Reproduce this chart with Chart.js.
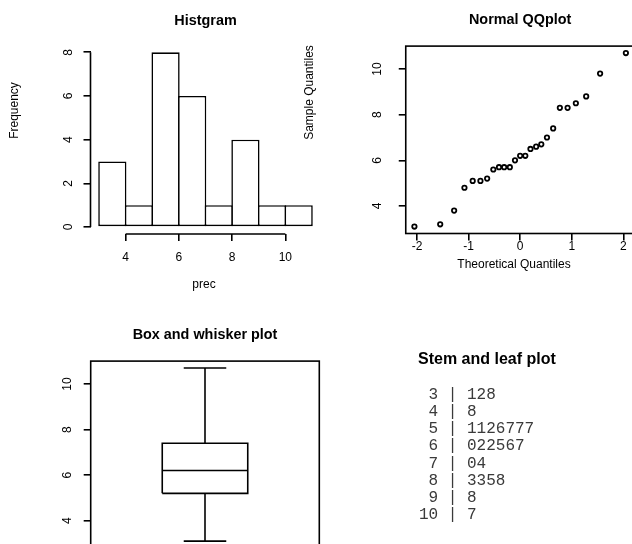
<!DOCTYPE html>
<html>
<head>
<meta charset="utf-8">
<script src="https://cdn.jsdelivr.net/npm/chart.js@4.4.1/dist/chart.umd.min.js"></script>
<style>
  html, body { margin: 0; padding: 0; background: #fff; width: 632px; height: 544px; overflow: hidden; }
  canvas { position: absolute; left: 0; top: 0; }
  #stemTitle { position: absolute; left: 418px; top: 350px; line-height: 20px;
    font: bold 16px "Liberation Sans", Arial, sans-serif; color: #000; white-space: nowrap; }
  #stemText { position: absolute; left: 419px; top: 387px; margin: 0;
    font: 16px/17.14px "Liberation Mono", "Courier New", monospace; color: #3a3a3a; }
</style>
</head>
<body>
<canvas id="hist" width="700" height="620"></canvas>
<canvas id="qq" width="700" height="620"></canvas>
<canvas id="box" width="700" height="620"></canvas>
<div id="stemTitle">Stem and leaf plot</div>
<pre id="stemText"></pre>
<script>
// precipitation sample
var histBreaks = [3, 4, 5, 6, 7, 8, 9, 10, 11];
var histCounts = [3, 1, 8, 6, 1, 4, 1, 1];
var histXTicks = [4, 6, 8, 10];
var histYTicks = [0, 2, 4, 6, 8];

var qqTheo = [-2.05, -1.55, -1.28, -1.08, -0.92, -0.77, -0.64, -0.52, -0.41, -0.31, -0.2, -0.1, 0,
              0.1, 0.2, 0.31, 0.41, 0.52, 0.64, 0.77, 0.92, 1.08, 1.28, 1.55, 2.05];
var qqSample = [3.1, 3.2, 3.8, 4.8, 5.1, 5.1, 5.2, 5.6, 5.7, 5.7, 5.7, 6.0, 6.2,
                6.2, 6.5, 6.6, 6.7, 7.0, 7.4, 8.3, 8.3, 8.5, 8.8, 9.8, 10.7];
var qqXTicks = [-2, -1, 0, 1, 2];
var qqYTicks = [4, 6, 8, 10];

// min, lower hinge, median, upper hinge, max
var boxStats = [3.1, 5.2, 6.2, 7.4, 10.7];
var boxYTicks = [4, 6, 8, 10];

var stems = [3, 4, 5, 6, 7, 8, 9, 10];
var leaves = ['128', '8', '1126777', '022567', '04', '3358', '8', '7'];

Chart.defaults.font.family = '"Liberation Sans", Arial, sans-serif';
Chart.defaults.color = '#000';
Chart.defaults.animation = false;
Chart.defaults.plugins.legend.display = false;
Chart.defaults.plugins.tooltip.enabled = false;

var LW = 1.6;
var AXIS_W = 70, AXIS_H = 40;

// base-graphics style axis: outward ticks, no grid
function rScale(pos, min, max, tickValues, pad) {
  var vertical = pos === 'left';
  return {
    type: 'linear', position: pos, min: min, max: max, offset: false,
    border: { display: false },
    grid: { drawOnChartArea: false, offset: false, tickLength: 7, lineWidth: LW, color: '#000' },
    ticks: {
      autoSkip: false, padding: pad, font: { size: 12 },
      minRotation: vertical ? 90 : 0, maxRotation: vertical ? 90 : 0,
      crossAlign: vertical ? 'center' : 'near'
    },
    afterBuildTicks: function (s) {
      s.ticks = tickValues.map(function (v) { return { value: v }; });
    },
    afterFit: function (s) {
      if (vertical) s.width = AXIS_W; else s.height = AXIS_H;
    }
  };
}

var framePlugin = {
  id: 'frame',
  afterDraw: function (chart) {
    var a = chart.chartArea, c = chart.ctx;
    c.save();
    c.strokeStyle = '#000';
    c.lineWidth = LW;
    c.strokeRect(a.left, a.top, a.right - a.left, a.bottom - a.top);
    c.restore();
  }
};

// axis lines only from the first to the last tick
function tickSpanPlugin(xTicks, yTicks) {
  return {
    id: 'tickSpan',
    afterDraw: function (chart) {
      var c = chart.ctx, a = chart.chartArea, sx = chart.scales.x, sy = chart.scales.y;
      c.save();
      c.strokeStyle = '#000';
      c.lineWidth = LW;
      c.beginPath();
      c.moveTo(sx.getPixelForValue(xTicks[0]), a.bottom);
      c.lineTo(sx.getPixelForValue(xTicks[xTicks.length - 1]), a.bottom);
      c.moveTo(a.left, sy.getPixelForValue(yTicks[0]));
      c.lineTo(a.left, sy.getPixelForValue(yTicks[yTicks.length - 1]));
      c.stroke();
      c.restore();
    }
  };
}

// main title (centred over the plot region) and axis titles
function textPlugin(title, titleY, items) {
  return {
    id: 'rText',
    afterDraw: function (chart) {
      var c = chart.ctx, a = chart.chartArea;
      c.save();
      c.fillStyle = '#000';
      c.textAlign = 'center';
      c.textBaseline = 'middle';
      c.font = 'bold 14.4px "Liberation Sans", Arial, sans-serif';
      c.fillText(title, (a.left + a.right) / 2, titleY);
      c.font = '12px "Liberation Sans", Arial, sans-serif';
      items.forEach(function (t) {
        c.save();
        c.translate(t.x, t.y);
        if (t.vertical) c.rotate(-Math.PI / 2);
        c.fillText(t.text, 0, 0);
        c.restore();
      });
      c.restore();
    }
  };
}

// histogram
new Chart(document.getElementById('hist'), {
  type: 'bar',
  data: {
    datasets: [{
      data: histCounts.map(function (n, i) {
        return { x: (histBreaks[i] + histBreaks[i + 1]) / 2, y: n };
      }),
      backgroundColor: '#fff',
      borderColor: '#000',
      borderWidth: LW,
      borderSkipped: false,
      barPercentage: 1.06,
      categoryPercentage: 1
    }]
  },
  options: {
    responsive: false,
    layout: { padding: { left: 90.5 - AXIS_W, right: 379.5, top: 45.3, bottom: 386 - AXIS_H } },
    scales: {
      x: rScale('bottom', 2.68, 11.32, histXTicks, 9),
      y: rScale('left', -0.32, 8.32, histYTicks, 11)
    }
  },
  plugins: [
    tickSpanPlugin(histXTicks, histYTicks),
    textPlugin('Histgram', 20.7, [
      { text: 'Frequency', x: 15, y: 110.5, vertical: true },
      { text: 'prec', x: 204, y: 285 }
    ])
  ]
});

// normal QQ plot
new Chart(document.getElementById('qq'), {
  type: 'scatter',
  data: {
    datasets: [{
      data: qqTheo.map(function (t, i) { return { x: t, y: qqSample[i] }; }),
      pointRadius: 2.2,
      pointBorderWidth: 1.8,
      borderColor: '#000',
      backgroundColor: 'rgba(0,0,0,0)'
    }]
  },
  options: {
    responsive: false,
    layout: { padding: { left: 405.75 - AXIS_W, right: 65.45, top: 46.1, bottom: 386.5 - AXIS_H } },
    scales: {
      x: rScale('bottom', -2.218, 2.218, qqXTicks, -0.8),
      y: rScale('left', 2.796, 11.004, qqYTicks, 14.8)
    }
  },
  plugins: [
    framePlugin,
    textPlugin('Normal QQplot', 20, [
      { text: 'Sample Quantiles', x: 310, y: 92.5, vertical: true },
      { text: 'Theoretical Quantiles', x: 514, y: 265 }
    ])
  ]
});

// box and whisker plot
var lo = boxStats[0], q1 = boxStats[1], med = boxStats[2], q3 = boxStats[3], hi = boxStats[4];
var halfBox = 0.187, halfCap = 0.093;

function seg(points) {
  return { data: points, showLine: true, borderColor: '#000', borderWidth: LW, pointRadius: 0, fill: false };
}

new Chart(document.getElementById('box'), {
  type: 'scatter',
  data: {
    datasets: [
      seg([{ x: 1 - halfBox, y: q1 }, { x: 1 + halfBox, y: q1 }, { x: 1 + halfBox, y: q3 },
           { x: 1 - halfBox, y: q3 }, { x: 1 - halfBox, y: q1 }]),
      seg([{ x: 1 - halfBox, y: med }, { x: 1 + halfBox, y: med }]),
      seg([{ x: 1, y: q3 }, { x: 1, y: hi }]),
      seg([{ x: 1, y: q1 }, { x: 1, y: lo }]),
      seg([{ x: 1 - halfCap, y: hi }, { x: 1 + halfCap, y: hi }]),
      seg([{ x: 1 - halfCap, y: lo }, { x: 1 + halfCap, y: lo }])
    ]
  },
  options: {
    responsive: false,
    layout: { padding: { left: 90.7 - AXIS_W, right: 380.7, top: 361.1, bottom: 71.9 } },
    scales: {
      x: { type: 'linear', min: 0.5, max: 1.5, display: false },
      y: rScale('left', 2.796, 11.004, boxYTicks, 9)
    }
  },
  plugins: [framePlugin, textPlugin('Box and whisker plot', 335, [])]
});

// stem and leaf listing
document.getElementById('stemText').textContent = stems.map(function (s, i) {
  return (s < 10 ? ' ' : '') + s + ' | ' + leaves[i];
}).join('\n');
</script>
</body>
</html>
